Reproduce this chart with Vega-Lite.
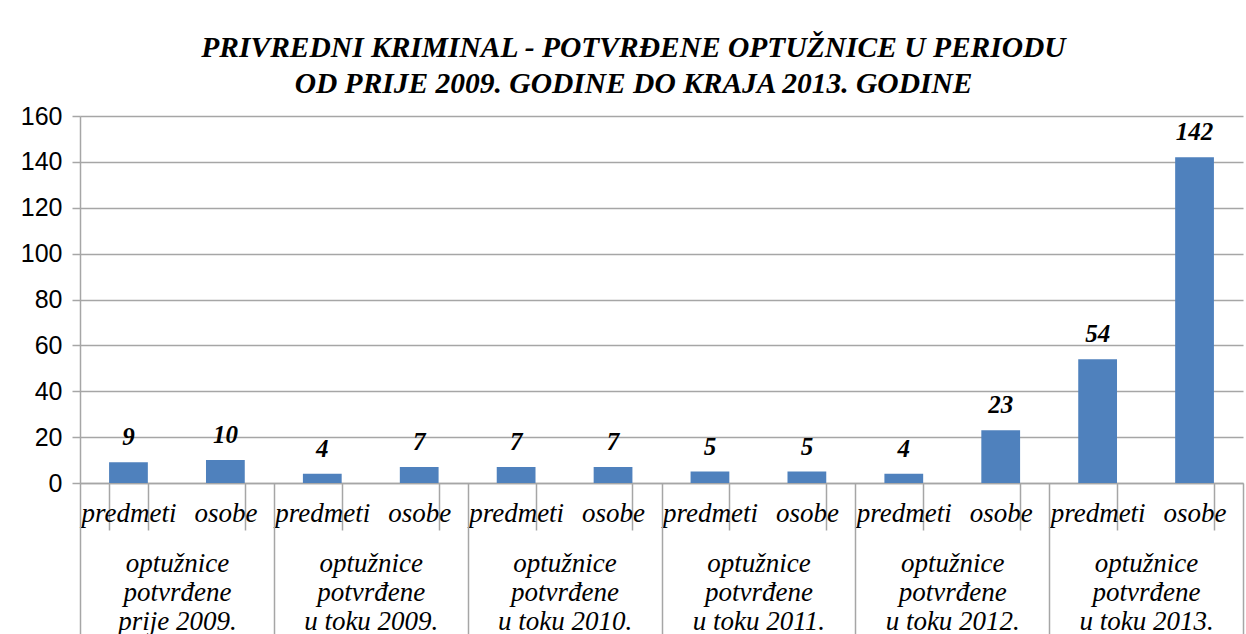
{
  "$schema": "https://vega.github.io/schema/vega-lite/v6.json",
  "width": 1163,
  "height": 367,
  "autosize": "none",
  "padding": {"left": 80, "top": 116, "right": 3, "bottom": 151},
  "background": "white",
  "title": {
    "text": ["PRIVREDNI KRIMINAL - POTVRĐENE OPTUŽNICE U PERIODU", "OD PRIJE 2009. GODINE DO KRAJA 2013. GODINE"],
    "font": "Liberation Serif",
    "fontSize": 29.5,
    "fontWeight": "bold",
    "fontStyle": "italic",
    "color": "#000000",
    "lineHeight": 36,
    "anchor": "middle",
    "dx": -28,
    "offset": 5
  },
  "data": {
    "values": [
      {"id": "1|predmeti", "grupa": "optužnice|potvrđene|prije 2009.", "broj": 9},
      {"id": "1|osobe", "grupa": "optužnice|potvrđene|prije 2009.", "broj": 10},
      {"id": "2|predmeti", "grupa": "optužnice|potvrđene|u toku 2009.", "broj": 4},
      {"id": "2|osobe", "grupa": "optužnice|potvrđene|u toku 2009.", "broj": 7},
      {"id": "3|predmeti", "grupa": "optužnice|potvrđene|u toku 2010.", "broj": 7},
      {"id": "3|osobe", "grupa": "optužnice|potvrđene|u toku 2010.", "broj": 7},
      {"id": "4|predmeti", "grupa": "optužnice|potvrđene|u toku 2011.", "broj": 5},
      {"id": "4|osobe", "grupa": "optužnice|potvrđene|u toku 2011.", "broj": 5},
      {"id": "5|predmeti", "grupa": "optužnice|potvrđene|u toku 2012.", "broj": 4},
      {"id": "5|osobe", "grupa": "optužnice|potvrđene|u toku 2012.", "broj": 23},
      {"id": "6|predmeti", "grupa": "optužnice|potvrđene|u toku 2013.", "broj": 54},
      {"id": "6|osobe", "grupa": "optužnice|potvrđene|u toku 2013.", "broj": 142}
    ]
  },
  "layer": [
    {
      "encoding": {
        "x": {
          "field": "id",
          "type": "nominal",
          "sort": null,
          "scale": {"paddingInner": 0.6, "paddingOuter": 0.3},
          "axis": {
            "title": null,
            "orient": "bottom",
            "labelExpr": "split(datum.label, '|')[1]",
            "labelAngle": 0,
            "labelFont": "Liberation Serif",
            "labelFontStyle": "italic",
            "labelFontSize": 27,
            "labelColor": "#000000",
            "labelBaseline": "alphabetic",
            "labelPadding": -9,
            "labelOverlap": false,
            "labelBound": false,
            "labelFlush": false,
            "tickBand": "extent",
            "tickSize": 47,
            "tickColor": "#a6a6a6",
            "domainColor": "#a6a6a6",
            "domainWidth": 1.5,
            "tickWidth": 1.5
          }
        },
        "y": {
          "field": "broj",
          "type": "quantitative",
          "scale": {"domain": [0, 160], "nice": false},
          "axis": {
            "title": null,
            "values": [0, 20, 40, 60, 80, 100, 120, 140, 160],
            "labelFont": "Liberation Sans",
            "labelFontSize": 25,
            "labelColor": "#000000",
            "labelPadding": 10,
            "tickSize": 8,
            "tickColor": "#a6a6a6",
            "domainColor": "#a6a6a6",
            "domainWidth": 1.5,
            "tickWidth": 1.5,
            "grid": true,
            "gridColor": "#a6a6a6",
            "gridWidth": 1.5
          }
        }
      },
      "layer": [
        {"mark": {"type": "bar", "color": "#4f81bd"}},
        {
          "mark": {"type": "text", "font": "Liberation Serif", "fontSize": 25, "fontWeight": "bold", "fontStyle": "italic", "color": "#000000", "baseline": "alphabetic", "dy": -17},
          "encoding": {"text": {"field": "broj", "type": "quantitative"}}
        }
      ]
    },
    {
      "mark": {"type": "rule", "opacity": 0},
      "encoding": {
        "x": {
          "field": "grupa",
          "type": "nominal",
          "sort": null,
          "scale": {"paddingInner": 0, "paddingOuter": 0},
          "axis": {
            "title": null,
            "orient": "bottom",
            "offset": 0,
            "domain": false,
            "labelExpr": "split(datum.label, '|')",
            "labelAngle": 0,
            "labelFont": "Liberation Serif",
            "labelFontStyle": "italic",
            "labelFontSize": 27,
            "labelLineHeight": 29,
            "labelColor": "#000000",
            "labelBaseline": "alphabetic",
            "labelPadding": -63,
            "labelOverlap": false,
            "labelBound": false,
            "labelFlush": false,
            "tickBand": "extent",
            "tickSize": 151,
            "tickColor": "#a6a6a6",
            "tickWidth": 1.5
          }
        }
      }
    }
  ],
  "resolve": {"scale": {"x": "independent"}, "axis": {"x": "independent"}},
  "config": {"view": {"stroke": null}}
}
